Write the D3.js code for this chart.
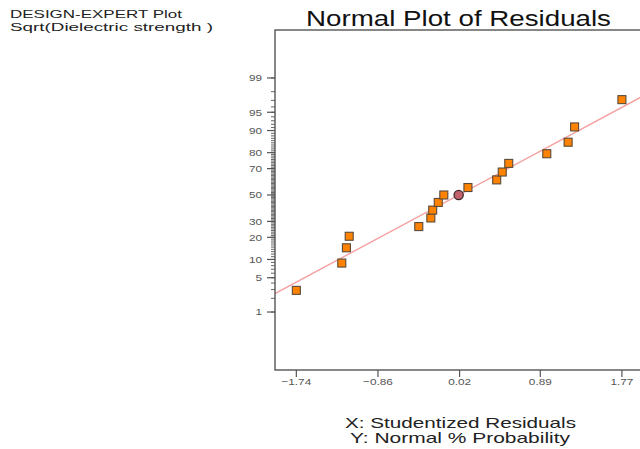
<!DOCTYPE html>
<html>
<head>
<meta charset="utf-8">
<script src="https://cdn.jsdelivr.net/npm/d3@7"></script>
<style>
  html, body { margin: 0; padding: 0; background: #fff; }
  svg { display: block; font-family: "Liberation Sans", Arial, sans-serif; }
</style>
</head>
<body>
<svg id="chart" width="640" height="449"></svg>
<script>
// Studentized residuals, sorted, with their normal % probability
const residuals = [-1.74, -1.25, -1.20, -1.17, -0.42, -0.29, -0.27, -0.21, -0.15,
                   0.11, 0.42, 0.48, 0.55, 0.96, 1.19, 1.26, 1.77];
const probabilities = [2.9, 8.8, 14.7, 20.6, 26.5, 32.4, 38.2, 44.1, 50.0,
                       55.9, 61.8, 67.6, 73.5, 79.4, 85.3, 91.2, 97.1];

// Highlighted run
const highlightResidual = [0.01];
const highlightProb = [50.0];

// Reference normal line
const fitMean = 0.01;
const fitSd = 1.01;

// Axis ticks
const xTicks = [-1.74, -0.86, 0.02, 0.89, 1.77];
const yTicks = [1, 5, 10, 20, 30, 50, 70, 80, 90, 95, 99];
const yMinorTicks = d3.range(1, 100);

// Inverse of the standard normal CDF (Acklam's rational approximation)
function probit(p) {
  const a = [-3.969683028665376e+01, 2.209460984245205e+02, -2.759285104469687e+02,
             1.383577518672690e+02, -3.066479806614716e+01, 2.506628277459239e+00];
  const b = [-5.447609879822406e+01, 1.615858368580409e+02, -1.556989798598866e+02,
             6.680131188771972e+01, -1.328068155288572e+01];
  const c = [-7.784894002430293e-03, -3.223964580411365e-01, -2.400758277161838e+00,
             -2.549732539343734e+00, 4.374664141464968e+00, 2.938163982698783e+00];
  const d = [7.784695709041462e-03, 3.224671290700398e-01, 2.445134137142996e+00,
             3.754408661907416e+00];
  const pl = 0.02425, ph = 1 - pl;
  let q, r;
  if (p < pl) {
    q = Math.sqrt(-2 * Math.log(p));
    return (((((c[0]*q+c[1])*q+c[2])*q+c[3])*q+c[4])*q+c[5]) /
           ((((d[0]*q+d[1])*q+d[2])*q+d[3])*q+1);
  }
  if (p <= ph) {
    q = p - 0.5; r = q * q;
    return (((((a[0]*r+a[1])*r+a[2])*r+a[3])*r+a[4])*r+a[5])*q /
           (((((b[0]*r+b[1])*r+b[2])*r+b[3])*r+b[4])*r+1);
  }
  q = Math.sqrt(-2 * Math.log(1 - p));
  return -(((((c[0]*q+c[1])*q+c[2])*q+c[3])*q+c[4])*q+c[5]) /
          ((((d[0]*q+d[1])*q+d[2])*q+d[3])*q+1);
}

// Widen text glyphs horizontally by a factor (keeps the anchor point)
function widen(sel, factor) {
  sel.each(function () {
    const w = this.getComputedTextLength();
    d3.select(this).attr("textLength", w * factor).attr("lengthAdjust", "spacingAndGlyphs");
  });
  return sel;
}

const svg = d3.select("#chart");
const plot = { left: 275, top: 30, right: 641.4, bottom: 370 };

const x = d3.scaleLinear().domain([-1.97, 1.98]).range([plot.left, plot.right]);
// y works in normal-score units; percentages go through probit first
const z = d3.scaleLinear().domain([-3.479, 3.280]).range([plot.bottom, plot.top]);
const yPct = pct => z(probit(pct / 100));

// Header texts
svg.append("text").attr("x", 10).attr("y", 18)
  .attr("font-size", 11.8).attr("fill", "#222")
  .attr("textLength", 172).attr("lengthAdjust", "spacingAndGlyphs")
  .text("DESIGN-EXPERT Plot");
svg.append("text").attr("x", 10).attr("y", 31)
  .attr("font-size", 11.8).attr("fill", "#222")
  .attr("textLength", 203).attr("lengthAdjust", "spacingAndGlyphs")
  .text("Sqrt(Dielectric strength )");

svg.append("text").attr("x", 306).attr("y", 26)
  .attr("font-size", 21.5).attr("fill", "#111")
  .attr("textLength", 305).attr("lengthAdjust", "spacingAndGlyphs")
  .text("Normal Plot of Residuals");

// Clip region for the fitted line
svg.append("clipPath").attr("id", "plotClip")
  .append("rect")
  .attr("x", plot.left).attr("y", plot.top)
  .attr("width", plot.right - plot.left).attr("height", plot.bottom - plot.top);

// Normal reference line
const xd = x.domain();
svg.append("line")
  .attr("clip-path", "url(#plotClip)")
  .attr("x1", x(xd[0])).attr("y1", z((xd[0] - fitMean) / fitSd))
  .attr("x2", x(xd[1])).attr("y2", z((xd[1] - fitMean) / fitSd))
  .attr("stroke", "#f5a0a0").attr("stroke-width", 1.4);

// Plot frame
svg.append("rect")
  .attr("x", plot.left).attr("y", plot.top)
  .attr("width", plot.right - plot.left).attr("height", plot.bottom - plot.top)
  .attr("fill", "none").attr("stroke", "#555").attr("stroke-width", 1.4);

// Y axis: minor ticks at every percent, labelled majors
const yAxisG = svg.append("g");
yAxisG.selectAll("line.minor").data(yMinorTicks).join("line")
  .attr("class", "minor")
  .attr("x1", plot.left - 4).attr("x2", plot.left)
  .attr("y1", d => yPct(d)).attr("y2", d => yPct(d))
  .attr("stroke", "#555").attr("stroke-width", 0.9);
yAxisG.selectAll("line.major").data(yTicks).join("line")
  .attr("class", "major")
  .attr("x1", plot.left - 8).attr("x2", plot.left)
  .attr("y1", d => yPct(d)).attr("y2", d => yPct(d))
  .attr("stroke", "#555").attr("stroke-width", 1.2);
widen(yAxisG.selectAll("text").data(yTicks).join("text")
  .attr("x", plot.left - 13).attr("y", d => yPct(d))
  .attr("dy", "0.35em").attr("text-anchor", "end")
  .attr("font-size", 9.8).attr("fill", "#555")
  .text(d => d), 1.2);

// X axis ticks
const xAxisG = svg.append("g");
xAxisG.selectAll("line").data(xTicks).join("line")
  .attr("x1", d => x(d)).attr("x2", d => x(d))
  .attr("y1", plot.bottom).attr("y2", plot.bottom + 7)
  .attr("stroke", "#555").attr("stroke-width", 1.2);
widen(xAxisG.selectAll("text").data(xTicks).join("text")
  .attr("x", d => x(d)).attr("y", plot.bottom + 15)
  .attr("text-anchor", "middle")
  .attr("font-size", 9.8).attr("fill", "#555")
  .text(d => d3.format(".2f")(d)), 1.2);

// Residual points
const pts = residuals.map((r, i) => ({ r, p: probabilities[i] }));
svg.append("g").selectAll("rect").data(pts).join("rect")
  .attr("x", d => x(d.r) - 4).attr("y", d => yPct(d.p) - 4)
  .attr("width", 8).attr("height", 8)
  .attr("fill", "#ff8200").attr("stroke", "#5a4a3a").attr("stroke-width", 1.1);

// Highlighted point
svg.append("g").selectAll("circle")
  .data(highlightResidual.map((r, i) => ({ r, p: highlightProb[i] })))
  .join("circle")
  .attr("cx", d => x(d.r)).attr("cy", d => yPct(d.p)).attr("r", 4.6)
  .attr("fill", "#c2606c").attr("stroke", "#3a2a2a").attr("stroke-width", 1.3);

// Axis legends
svg.append("text").attr("x", 345).attr("y", 428)
  .attr("font-size", 14.5).attr("fill", "#222")
  .attr("textLength", 231).attr("lengthAdjust", "spacingAndGlyphs")
  .text("X: Studentized Residuals");
svg.append("text").attr("x", 350).attr("y", 443)
  .attr("font-size", 14.5).attr("fill", "#222")
  .attr("textLength", 220).attr("lengthAdjust", "spacingAndGlyphs")
  .text("Y: Normal % Probability");
</script>
</body>
</html>
